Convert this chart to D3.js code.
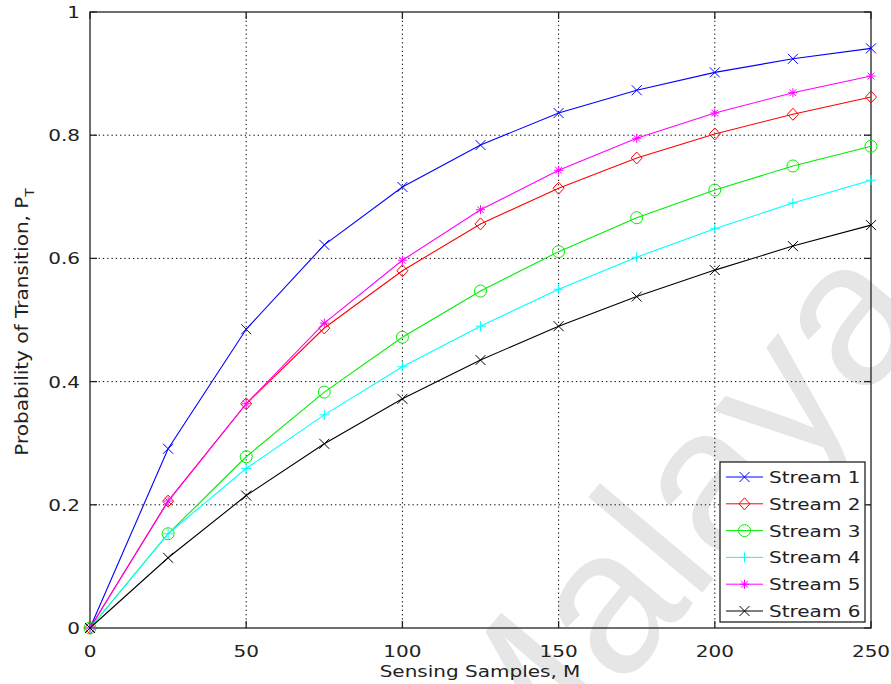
<!DOCTYPE html>
<html>
<head>
<meta charset="utf-8">
<script src="https://cdn.jsdelivr.net/npm/d3@7"></script>
<style>
body { margin: 0; background: #fff; }
text { font-family: "DejaVu Sans", sans-serif; fill: #222; }
</style>
</head>
<body>
<div id="graph_draw"></div>
<script>
// data
var samples = [0, 25, 50, 75, 100, 125, 150, 175, 200, 225, 250];
var stream1 = [0, 0.291, 0.485, 0.622, 0.716, 0.784, 0.836, 0.873, 0.902, 0.924, 0.941];
var stream2 = [0, 0.206, 0.364, 0.487, 0.580, 0.656, 0.714, 0.763, 0.802, 0.834, 0.862];
var stream3 = [0, 0.153, 0.278, 0.383, 0.472, 0.547, 0.611, 0.666, 0.711, 0.750, 0.782];
var stream4 = [0, 0.153, 0.259, 0.346, 0.424, 0.490, 0.550, 0.602, 0.648, 0.690, 0.727];
var stream5 = [0, 0.206, 0.364, 0.495, 0.597, 0.679, 0.743, 0.795, 0.836, 0.869, 0.896];
var stream6 = [0, 0.114, 0.215, 0.299, 0.372, 0.435, 0.490, 0.538, 0.581, 0.620, 0.654];
var seriesNames = ["Stream 1", "Stream 2", "Stream 3", "Stream 4", "Stream 5", "Stream 6"];
var seriesColors = ["#0000ff", "#ff0000", "#00ee00", "#00ffff", "#ff00ff", "#000000"];
var seriesMarkers = ["x", "diamond", "circle", "plus", "star", "x"];
var xTicks = [0, 50, 100, 150, 200, 250];
var yTicks = [0, 0.2, 0.4, 0.6, 0.8, 1];

var allSeries = [stream1, stream2, stream3, stream4, stream5, stream6];

var W = 891, H = 684;
var margin = {left: 90, right: 871, top: 12, bottom: 628};
var sx = 1.25; // the picture is stretched sideways

var svg = d3.select("#graph_draw").append("svg")
    .attr("width", W).attr("height", H);

// watermark, under everything
svg.append("text")
    .attr("transform", "translate(935,315) rotate(-50)")
    .attr("text-anchor", "end")
    .style("font-family", "'Liberation Sans', Arial, sans-serif")
    .style("font-size", "205px")
    .style("fill", "#e6e6e6")
    .text("University of Malaya");

var x = d3.scaleLinear().domain([0, 250]).range([margin.left, margin.right]);
var y = d3.scaleLinear().domain([0, 1]).range([margin.bottom, margin.top]);

// grid
var grid = svg.append("g");
xTicks.slice(1, -1).forEach(function(t) {
    grid.append("line")
        .attr("x1", x(t)).attr("x2", x(t)).attr("y1", margin.top).attr("y2", margin.bottom)
        .attr("stroke", "#000").attr("stroke-dasharray", "1.3,3");
});
yTicks.slice(1, -1).forEach(function(t) {
    grid.append("line")
        .attr("x1", margin.left).attr("x2", margin.right).attr("y1", y(t)).attr("y2", y(t))
        .attr("stroke", "#000").attr("stroke-dasharray", "1.3,3");
});

// box and inner ticks
var ax = svg.append("g").attr("stroke", "#222").attr("stroke-width", 1.3);
ax.append("rect").attr("x", margin.left).attr("y", margin.top)
    .attr("width", margin.right - margin.left).attr("height", margin.bottom - margin.top)
    .attr("fill", "none");
var tl = 7;
xTicks.forEach(function(t) {
    ax.append("line").attr("x1", x(t)).attr("x2", x(t)).attr("y1", margin.bottom).attr("y2", margin.bottom - tl);
    ax.append("line").attr("x1", x(t)).attr("x2", x(t)).attr("y1", margin.top).attr("y2", margin.top + tl);
});
yTicks.forEach(function(t) {
    ax.append("line").attr("x1", margin.left).attr("x2", margin.left + tl).attr("y1", y(t)).attr("y2", y(t));
    ax.append("line").attr("x1", margin.right).attr("x2", margin.right - tl).attr("y1", y(t)).attr("y2", y(t));
});

function stretchedText(g, px, py, str, anchor) {
    return g.append("text")
        .attr("transform", "translate(" + px + "," + py + ") scale(" + sx + ",1)")
        .attr("text-anchor", anchor || "start")
        .style("font-size", "16px")
        .text(str);
}

// tick labels
xTicks.forEach(function(t) { stretchedText(svg, x(t), margin.bottom + 29, d3.format("")(t), "middle"); });
yTicks.forEach(function(t) { stretchedText(svg, margin.left - 10, y(t) + 6, d3.format("")(t), "end"); });

// axis titles
stretchedText(svg, 480, 677, "Sensing Samples, M", "middle");
var yl = svg.append("text")
    .attr("transform", "translate(28,322) rotate(-90) scale(1.25,1.15)")
    .attr("text-anchor", "middle")
    .style("font-size", "16px");
yl.append("tspan").text("Probability of Transition, P");
yl.append("tspan").attr("dy", 5).style("font-size", "11px").text("T");

// markers
function marker(g, type, cx, cy, color) {
    var s = 5;
    var p = d3.path();
    if (type === "x") {
        p.moveTo(cx - s, cy - s); p.lineTo(cx + s, cy + s);
        p.moveTo(cx - s, cy + s); p.lineTo(cx + s, cy - s);
    } else if (type === "plus") {
        p.moveTo(cx - s, cy); p.lineTo(cx + s, cy);
        p.moveTo(cx, cy - s); p.lineTo(cx, cy + s);
    } else if (type === "star") {
        var r = 4.5;
        p.moveTo(cx - r, cy); p.lineTo(cx + r, cy);
        p.moveTo(cx, cy - r); p.lineTo(cx, cy + r);
        p.moveTo(cx - r * 0.75, cy - r * 0.75); p.lineTo(cx + r * 0.75, cy + r * 0.75);
        p.moveTo(cx - r * 0.75, cy + r * 0.75); p.lineTo(cx + r * 0.75, cy - r * 0.75);
    } else if (type === "diamond") {
        p.moveTo(cx, cy - 6); p.lineTo(cx + 5.5, cy); p.lineTo(cx, cy + 6); p.lineTo(cx - 5.5, cy); p.closePath();
    } else if (type === "circle") {
        p.moveTo(cx + 6, cy); p.arc(cx, cy, 6, 0, 2 * Math.PI);
    }
    g.append("path").attr("d", p.toString())
        .attr("fill", "none").attr("stroke", color).attr("stroke-width", 1);
}

var line = d3.line()
    .x(function(d, i) { return x(samples[i]); })
    .y(function(d) { return y(d); });

allSeries.forEach(function(vals, k) {
    var g = svg.append("g");
    g.append("path").datum(vals)
        .attr("d", line)
        .attr("fill", "none")
        .attr("stroke", seriesColors[k])
        .attr("stroke-width", 1.1);
    vals.forEach(function(v, i) {
        marker(g, seriesMarkers[k], x(samples[i]), y(v), seriesColors[k]);
    });
});

// legend
var lg = svg.append("g");
lg.append("rect").attr("x", 720).attr("y", 462).attr("width", 145).attr("height", 160)
    .attr("fill", "#fff").attr("stroke", "#222").attr("stroke-width", 1.3);
seriesNames.forEach(function(name, k) {
    var ly = 477 + k * 26.8;
    lg.append("line").attr("x1", 726).attr("x2", 763).attr("y1", ly).attr("y2", ly)
        .attr("stroke", seriesColors[k]).attr("stroke-width", 1);
    marker(lg, seriesMarkers[k], 744.5, ly, seriesColors[k]);
    stretchedText(lg, 769, ly + 6, name, "start");
});
</script>
</body>
</html>
